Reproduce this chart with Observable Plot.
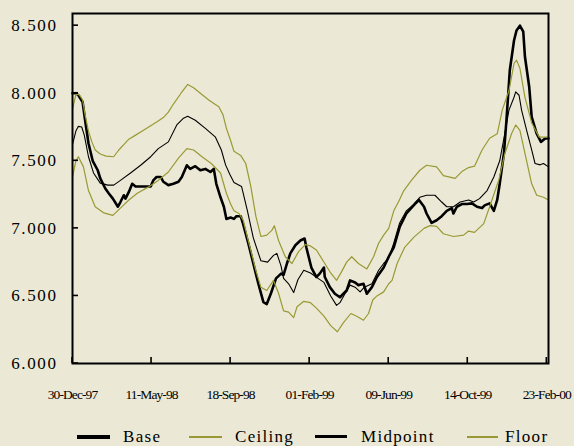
<!DOCTYPE html>
<html><head><meta charset="utf-8">
<script src="https://cdn.jsdelivr.net/npm/d3@7"></script>
<script src="https://cdn.jsdelivr.net/npm/@observablehq/plot@0.6"></script>
<style>
html,body{margin:0;padding:0;background:#EBE9D6;}
#wrap{position:relative;width:574px;height:446px;overflow:hidden;background:#EBE9D6;}
#chart svg{display:block;}
#legend{position:relative;width:574px;height:34px;font-family:"Liberation Serif","Times New Roman",serif;font-size:17px;letter-spacing:1.3px;color:#000;}
#legend .sw{position:absolute;}
#legend .tx{position:absolute;top:15px;line-height:20px;white-space:nowrap;}
</style>
</head><body>
<div id="wrap"><div id="chart"></div><div id="legend"></div></div>
<script>
// x = observation number (business-day index); tick labels every 94 observations
const tickObs = [0, 94, 188, 282, 376, 470, 564];
const tickLabels = ["30-Dec-97","11-May-98","18-Sep-98","01-Feb-99","09-Jun-99","14-Oct-99","23-Feb-00"];
const yTicks = [6, 6.5, 7, 7.5, 8, 8.5];
const seriesNames = ["Base","Ceiling","Midpoint","Floor"];

const baseObs = [0,4,7,12,15,19,24,30,33,39,43,48,54,57,61,63,67,71,75,81,87,93,96,100,105,108,114,120,126,130,136,140,146,152,158,164,168,171,176,180,183,188,192,195,200,203,209,215,221,227,231,236,242,248,251,255,259,265,271,276,278,284,290,294,299,300,306,312,318,326,330,336,340,346,350,356,362,370,376,382,389,397,407,412,418,421,427,433,439,445,451,453,457,463,469,475,481,487,490,496,501,505,508,513,516,520,525,528,532,536,538,543,546,552,557,562,566];
const baseVal = [8.00,8.00,7.985,7.935,7.80,7.63,7.50,7.43,7.37,7.295,7.26,7.22,7.16,7.195,7.245,7.22,7.27,7.33,7.31,7.31,7.31,7.31,7.355,7.38,7.38,7.345,7.32,7.33,7.345,7.38,7.467,7.44,7.46,7.43,7.44,7.417,7.44,7.33,7.23,7.16,7.07,7.08,7.07,7.09,7.09,7.03,6.89,6.74,6.59,6.454,6.44,6.52,6.63,6.665,6.655,6.74,6.815,6.875,6.91,6.925,6.86,6.71,6.64,6.665,6.71,6.64,6.565,6.516,6.49,6.54,6.615,6.60,6.58,6.59,6.516,6.565,6.64,6.71,6.79,6.86,7.01,7.11,7.18,7.21,7.16,7.11,7.04,7.06,7.09,7.13,7.15,7.11,7.16,7.18,7.18,7.185,7.16,7.15,7.17,7.185,7.13,7.21,7.33,7.555,7.80,8.17,8.39,8.465,8.50,8.455,8.27,8.05,7.825,7.70,7.64,7.665,7.665];

const ceilObs = [0,4,8,12,15,19,23,27,33,40,49,55,61,67,75,83,93,101,108,114,120,129,137,144,152,162,169,174,179,183,188,192,200,206,212,218,224,231,237,240,245,253,261,269,277,283,290,300,307,314,320,326,332,340,350,358,364,370,376,382,388,394,403,413,421,433,441,455,463,471,478,487,496,505,511,519,525,528,532,538,546,555,566];
const ceilVal = [7.88,7.99,7.99,7.95,7.84,7.72,7.64,7.58,7.55,7.535,7.53,7.58,7.62,7.66,7.69,7.72,7.76,7.79,7.82,7.86,7.92,8.00,8.065,8.04,8.00,7.95,7.92,7.90,7.84,7.74,7.65,7.57,7.54,7.48,7.31,7.09,6.94,6.95,6.985,7.02,6.91,6.79,6.74,6.83,6.88,6.87,6.84,6.74,6.67,6.615,6.68,6.75,6.79,6.74,6.70,6.79,6.89,6.95,7.00,7.13,7.20,7.28,7.355,7.43,7.467,7.455,7.39,7.37,7.42,7.45,7.46,7.58,7.667,7.70,7.875,8.02,8.22,8.245,8.185,7.97,7.78,7.675,7.675];

const midObs = [0,4,7,11,14,19,25,33,42,49,57,69,81,93,102,114,124,132,137,146,158,170,177,182,187,192,201,208,215,224,232,239,243,248,251,257,263,268,275,283,292,299,307,314,318,324,330,336,342,347,356,364,370,376,382,389,397,406,413,421,431,439,445,453,461,471,477,484,493,501,508,514,519,525,527,531,534,540,546,550,556,560,566];
const midVal = [7.62,7.72,7.755,7.75,7.69,7.53,7.41,7.335,7.32,7.32,7.355,7.41,7.467,7.53,7.59,7.64,7.765,7.815,7.83,7.80,7.74,7.675,7.58,7.47,7.40,7.34,7.31,7.13,6.93,6.76,6.75,6.80,6.815,6.72,6.63,6.59,6.525,6.62,6.69,6.67,6.63,6.60,6.50,6.43,6.45,6.516,6.58,6.565,6.53,6.565,6.59,6.69,6.74,6.78,6.89,7.04,7.13,7.18,7.23,7.245,7.245,7.195,7.16,7.16,7.195,7.21,7.195,7.22,7.28,7.38,7.50,7.70,7.875,7.97,8.01,7.985,7.875,7.725,7.58,7.48,7.47,7.48,7.455];

const floorObs = [0,4,7,13,19,27,37,48,57,67,77,90,102,114,126,136,144,154,165,176,183,188,192,198,203,209,218,224,231,239,245,251,257,263,267,275,283,290,299,307,315,322,331,338,346,352,357,362,370,376,380,386,395,406,418,425,433,441,453,465,471,478,489,496,507,514,522,527,532,538,546,552,560,566];
const floorVal = [7.38,7.50,7.53,7.455,7.28,7.16,7.115,7.096,7.15,7.21,7.26,7.305,7.355,7.417,7.52,7.59,7.58,7.53,7.48,7.41,7.26,7.18,7.13,7.11,7.06,6.91,6.69,6.565,6.54,6.615,6.52,6.39,6.38,6.34,6.42,6.46,6.45,6.41,6.35,6.28,6.235,6.30,6.37,6.35,6.32,6.37,6.47,6.50,6.53,6.59,6.615,6.74,6.86,6.935,7.00,7.02,7.015,6.96,6.94,6.95,6.98,6.97,7.035,7.16,7.36,7.55,7.70,7.765,7.725,7.555,7.33,7.245,7.23,7.21];

const OLIVE = "#999933";
const styles = {
  Base: {stroke: "#000", strokeWidth: 2.6, legendH: 4},
  Ceiling: {stroke: OLIVE, strokeWidth: 1.2, legendH: 2},
  Midpoint: {stroke: "#000", strokeWidth: 1.1, legendH: 2.5},
  Floor: {stroke: OLIVE, strokeWidth: 1.2, legendH: 2}
};
const rows = (name, obs, val) => obs.map((o, i) => ({series: name, obs: o, value: val[i]}));
const seriesData = {
  Base: rows("Base", baseObs, baseVal),
  Ceiling: rows("Ceiling", ceilObs, ceilVal),
  Midpoint: rows("Midpoint", midObs, midVal),
  Floor: rows("Floor", floorObs, floorVal)
};

const TICK = 6; // tick length, px (drawn inward)

const chart = Plot.plot({
  width: 574, height: 412,
  marginLeft: 72, marginRight: 26, marginTop: 13, marginBottom: 49,
  style: {background: "transparent", fontFamily: "'Liberation Serif', 'Times New Roman', serif", color: "#000"},
  x: {domain: [0, 566]},
  y: {domain: [6, 8.59]},
  marks: [
    ...seriesNames.map(n => Plot.line(seriesData[n], {x: "obs", y: "value", stroke: styles[n].stroke, strokeWidth: styles[n].strokeWidth, curve: "linear"})),
    Plot.frame({stroke: "#000", strokeWidth: 2}),
    Plot.axisY(yTicks, {tickSize: 0, tickPadding: 15, tickFormat: d3.format(".3f"), fontSize: 17, label: null}),
    Plot.axisX(tickObs, {tickSize: 0, tickPadding: 26, tickFormat: d => tickLabels[tickObs.indexOf(d)], fontSize: 13.5, label: null})
  ]
});
document.getElementById("chart").appendChild(chart);

// inward tick marks, positioned through Plot's own scales
const sx = chart.scale("x"), sy = chart.scale("y");
const [x0] = sx.range, [y0] = sy.range;
const svg = d3.select(chart);
const tg = svg.append("g").attr("stroke", "#000").attr("stroke-width", 1.6);
yTicks.forEach(v => {
  const y = sy.apply(v);
  tg.append("line").attr("x1", x0).attr("x2", x0 + TICK).attr("y1", y).attr("y2", y);
});
tickObs.forEach(v => {
  const x = sx.apply(v);
  tg.append("line").attr("x1", x).attr("x2", x).attr("y1", y0).attr("y2", y0 - TICK);
});

chart.querySelectorAll('g[aria-label="y-axis tick label"] text').forEach(t => t.style.letterSpacing = "1.6px");
chart.querySelectorAll('g[aria-label="x-axis tick label"] text').forEach(t => t.style.letterSpacing = "-0.9px");

// Legend (HTML, below the SVG)
const legendPos = {Base: [77, 33, 123], Ceiling: [189, 33, 235], Midpoint: [315, 32, 361], Floor: [467, 31, 505]};
const leg = document.getElementById("legend");
seriesNames.forEach(n => {
  const [lx, lw, tx] = legendPos[n];
  const h = styles[n].legendH;
  const s = document.createElement("div");
  s.className = "sw";
  s.style.left = lx + "px"; s.style.width = lw + "px";
  s.style.height = h + "px"; s.style.top = (24.7 - h / 2) + "px";
  s.style.background = styles[n].stroke;
  leg.appendChild(s);
  const t = document.createElement("span");
  t.className = "tx"; t.style.left = tx + "px"; t.textContent = n;
  leg.appendChild(t);
});
</script>
</body></html>
